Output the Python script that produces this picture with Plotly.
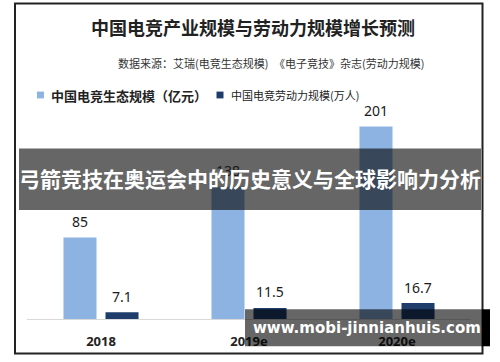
import plotly.graph_objects as go

# ---- data ----
years = ["2018", "2019e", "2020e"]
eco_scale = [85, 138, 201]          # 中国电竞生态规模（亿元）
labor_scale = [7.1, 11.5, 16.7]     # 中国电竞劳动力规模(万人)
series_names = ["中国电竞生态规模（亿元）", "中国电竞劳动力规模(万人)"]
title_text = "中国电竞产业规模与劳动力规模增长预测"
subtitle_text = "数据来源：艾瑞(电竞生态规模)　《电子竞技》杂志(劳动力规模)"
banner_text = "弓箭竞技在奥运会中的历史意义与全球影响力分析"
watermark_text = "www.mobi-jinnianhuis.com"

W, H = 500, 362
ML, MR, MT, MB = 27, 29, 95, 37
PW, PH = W - ML - MR, H - MT - MB
YMAX = PH / 0.9836

LIGHT = "#8DB3E2"
DARK = "#1F3D6B"
CJK = "Noto Sans CJK SC"


def px(x):
    return (x - ML) / PW


def py(y):
    return (H - MB - y) / PH


fig = go.Figure()
fig.add_bar(x=years, y=eco_scale, name=series_names[0], marker_color=LIGHT,
            marker_line_width=0)
fig.add_bar(x=years, y=labor_scale, name=series_names[1], marker_color=DARK,
            marker_line_width=0)

annotations = []
# data labels (x given as category index on the category axis)
for vals, shift in ((eco_scale, -21), (labor_scale, 21)):
    for i, v in enumerate(vals):
        annotations.append(dict(x=i, y=v, xref="x", yref="y", text=str(v),
                                showarrow=False, xshift=shift, yshift=16,
                                font=dict(family="Noto Sans", size=14, color="#1a1a1a"),
                                xanchor="center", yanchor="middle"))

annotations += [
    dict(x=px(253.5), y=py(25), xref="paper", yref="paper", text="<b>" + title_text + "</b>",
         showarrow=False, font=dict(family=CJK, size=18, color="#222"),
         xanchor="center", yanchor="middle"),
    dict(x=px(271), y=py(62), xref="paper", yref="paper", text=subtitle_text,
         showarrow=False, font=dict(family=CJK, size=11, color="#333"),
         xanchor="center", yanchor="middle"),
    dict(x=px(49), y=py(95), xref="paper", yref="paper", text="<b>" + series_names[0] + "</b>",
         showarrow=False, font=dict(family=CJK, size=13, color="#222"),
         xanchor="left", yanchor="middle"),
    dict(x=px(229), y=py(95), xref="paper", yref="paper", text=series_names[1],
         showarrow=False, font=dict(family=CJK, size=11, color="#222"),
         xanchor="left", yanchor="middle"),
    dict(x=px(249.5), y=py(180), xref="paper", yref="paper", text="<b>" + banner_text + "</b>",
         showarrow=False, font=dict(family=CJK, size=21, color="white"),
         xanchor="center", yanchor="middle"),
    dict(x=px(367), y=py(334), xref="paper", yref="paper", text="<b>" + watermark_text + "</b>",
         showarrow=False, font=dict(family="DejaVu Sans", size=15, color="white"),
         xanchor="center", yanchor="middle"),
]

shapes = [
    # frame
    dict(type="rect", xref="paper", yref="paper", x0=px(15), x1=px(482.5), y0=py(1), y1=py(360.5),
         line=dict(color="#222", width=2), fillcolor="rgba(0,0,0,0)", layer="above"),
    # legend swatches
    dict(type="rect", xref="paper", yref="paper", x0=px(37), x1=px(44), y0=py(91.5), y1=py(98.5),
         line=dict(width=0), fillcolor=LIGHT, layer="above"),
    dict(type="rect", xref="paper", yref="paper", x0=px(216.5), x1=px(223.5), y0=py(91.5), y1=py(98.5),
         line=dict(width=0), fillcolor=DARK, layer="above"),
    # banner overlay
    dict(type="rect", xref="paper", yref="paper", x0=px(19), x1=px(481), y0=py(150), y1=py(213),
         line=dict(width=0), fillcolor="rgba(0,0,0,0.6)", layer="above"),
    # watermark box
    dict(type="rect", xref="paper", yref="paper", x0=px(482), x1=px(490), y0=py(315), y1=py(353),
         line=dict(width=0), fillcolor="black", layer="above"),
    dict(type="rect", xref="paper", yref="paper", x0=px(245), x1=px(482), y0=py(315), y1=py(353),
         line=dict(width=0), fillcolor="rgba(0,0,0,0.6)", layer="above"),
]

fig.update_layout(
    width=W, height=H,
    margin=dict(l=ML, r=MR, t=MT, b=MB, pad=0),
    paper_bgcolor="white", plot_bgcolor="white",
    barmode="group", bargap=0.432, bargroupgap=0.214,
    showlegend=False,
    annotations=annotations, shapes=shapes,
    xaxis=dict(type="category", categoryorder="array", categoryarray=years,
               range=[-0.5, len(years) - 0.5], autorange=False,
               showline=True, linecolor="#d9d9d9", linewidth=1,
               showgrid=False, zeroline=False, ticks="", ticklabelstandoff=10,
               tickfont=dict(family="Noto Sans", size=13, color="#222", weight="bold")),
    yaxis=dict(range=[0, YMAX], autorange=False, visible=False, showgrid=False, zeroline=False),
)

fig.write_html(
    "out.html",
    config={"displayModeBar": False},
    post_script="document.body.style.margin='0';document.body.style.overflow='hidden';",
)
